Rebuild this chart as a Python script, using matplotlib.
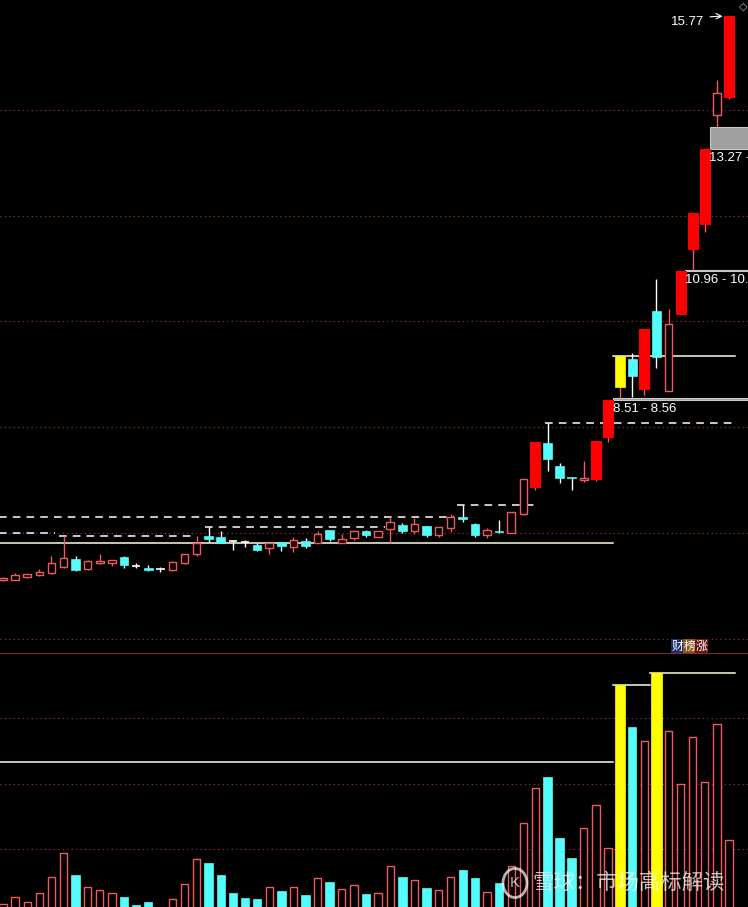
import matplotlib
matplotlib.use('Agg')
import matplotlib.pyplot as plt
from matplotlib.patches import Rectangle, Circle

plt.rcParams['font.family'] = ['Liberation Sans', 'Noto Sans CJK SC', 'DejaVu Sans']

# daily K-line data (price)
opens = [5.11, 5.11, 5.16, 5.20, 5.24, 5.35, 5.50, 5.32, 5.43, 5.43,
         5.54, 5.37, 5.33, 5.32, 5.30, 5.43, 5.60, 5.94, 5.92, 5.85,
         5.83, 5.77, 5.71, 5.83, 5.73, 5.85, 5.81, 6.05, 5.81, 5.90,
         6.03, 5.92, 6.07, 6.15, 6.03, 6.13, 5.96, 6.09, 6.30, 6.17,
         5.96, 6.03, 6.00, 6.36, 6.87, 7.70, 7.26, 7.06, 7.00, 7.02,
         7.81, 8.76, 9.29, 8.72, 10.20, 8.68, 10.14, 11.37, 11.84, 13.91,
         14.25]
highs = [5.16, 5.24, 5.23, 5.32, 5.56, 5.94, 5.56, 5.49, 5.60, 5.49,
         5.56, 5.43, 5.39, 5.35, 5.47, 5.60, 5.94, 6.11, 6.03, 5.86,
         5.86, 5.81, 5.81, 5.83, 5.92, 5.90, 6.03, 6.05, 5.98, 6.03,
         6.05, 6.03, 6.30, 6.19, 6.28, 6.13, 6.11, 6.36, 6.53, 6.19,
         6.09, 6.24, 6.39, 7.02, 7.72, 8.08, 7.32, 7.06, 7.36, 7.74,
         8.51, 9.35, 9.40, 9.86, 10.80, 10.23, 10.96, 12.05, 13.27, 14.57,
         15.77]
lows = [5.09, 5.10, 5.15, 5.19, 5.22, 5.33, 5.28, 5.30, 5.41, 5.37,
        5.33, 5.33, 5.28, 5.26, 5.28, 5.41, 5.56, 5.83, 5.81, 5.67,
        5.73, 5.66, 5.60, 5.66, 5.64, 5.71, 5.81, 5.85, 5.81, 5.86,
        5.92, 5.92, 5.81, 6.00, 5.98, 5.92, 5.92, 6.02, 6.20, 5.92,
        5.90, 6.00, 6.00, 6.34, 6.81, 7.17, 6.94, 6.81, 6.96, 6.98,
        7.72, 8.56, 8.57, 8.61, 9.12, 8.68, 10.14, 10.98, 11.69, 13.68,
        14.21]
closes = [5.14, 5.20, 5.22, 5.26, 5.43, 5.52, 5.30, 5.47, 5.47, 5.49,
          5.39, 5.37, 5.30, 5.32, 5.45, 5.60, 5.81, 5.88, 5.81, 5.85,
          5.83, 5.67, 5.81, 5.75, 5.86, 5.75, 5.98, 5.88, 5.88, 6.03,
          5.96, 6.03, 6.20, 6.03, 6.17, 5.96, 6.11, 6.30, 6.26, 5.96,
          6.05, 6.01, 6.39, 7.02, 7.72, 7.40, 7.04, 7.03, 7.04, 7.74,
          8.51, 9.35, 8.97, 9.86, 9.33, 9.95, 10.96, 12.05, 13.27, 14.32,
          15.77]
volume = [0.17, 0.27, 0.20, 0.34, 0.58, 0.95, 0.61, 0.43, 0.38, 0.34,
          0.27, 0.15, 0.20, 0.08, 0.24, 0.47, 0.85, 0.79, 0.61, 0.34,
          0.26, 0.24, 0.43, 0.37, 0.43, 0.31, 0.56, 0.50, 0.40, 0.46,
          0.32, 0.34, 0.75, 0.58, 0.53, 0.41, 0.38, 0.58, 0.69, 0.56,
          0.35, 0.49, 0.75, 1.40, 1.94, 2.11, 1.18, 0.87, 1.33, 1.68,
          1.02, 3.51, 2.87, 2.66, 3.69, 2.81, 2.00, 2.72, 2.03, 2.92,
          1.15]
limit_up = [44, 49, 50, 53, 56, 57, 58, 60]
yellow_k = [51]
yellow_v = [51, 54]

# gaps: (day, low, high)
gaps = [(50, 8.51, 8.56), (56, 10.96, 10.98), (58, 13.27, 13.68)]
# price level lines: (price, from, to, dashed)
levels = [(6.30, -1, 37.3, True), (6.00, -1, 4.3, True), (5.94, 4.6, 15.6, True),
          (6.11, 16.7, 31.6, True), (6.53, 37.5, 44.2, True), (8.08, 44.8, 60.3, True),
          (5.81, -1, 50.4, False), (9.35, 50.4, 60.5, False)]
vol_levels = [(2.34, -1, 50.4), (3.51, 50.4, 53.5), (3.69, 53.5, 60.5)]

RED = '#ff0000'
SALMON = '#f05a5a'
CYAN = '#54fcfc'
YEL = '#ffff00'
GRID = '#a03c3c'

fig = plt.figure(figsize=(7.48, 9.07), dpi=100, facecolor='black')
ax = fig.add_axes([0, 254 / 907, 1, 653 / 907])
axv = fig.add_axes([0, 0, 1, 254 / 907])
for a in (ax, axv):
    a.set_facecolor('black')
    a.set_xlim(-0.25, 61.57)
    a.axis('off')
ax.set_ylim(3.726, 16.081)
axv.set_ylim(0.122, 4.0)

for g in [4, 6, 8, 10, 12, 14]:
    ax.axhline(g, color=GRID, ls=(0, (1, 3)), lw=0.8, zorder=0)
for g in [1, 2, 3]:
    axv.axhline(g, color=GRID, ls=(0, (1, 3)), lw=0.8, zorder=0)
axv.axhline(4.0, color='#b03030', lw=1.2, zorder=5)

# level lines
for p, a0, a1, dashed in levels:
    ax.plot([a0, a1], [p, p], color='white' if dashed else '#fffbe0',
            ls=(0, (5, 4)) if dashed else '-', lw=1.1, zorder=1)
for v, a0, a1 in vol_levels:
    axv.plot([a0, a1], [v, v], color='#fffbe0', lw=1.1, zorder=1)

# gaps
for d, lo, hi in gaps:
    ax.add_patch(Rectangle((d + 0.4, lo), 62 - d, hi - lo, facecolor='#a0a0a0',
                           edgecolor='#c8c8c8', lw=0.8, zorder=1))
    ax.text(d + 0.38, lo - 0.06, f'{lo:.2f} - {hi:.2f}', color='white',
            fontsize=9.5, va='top', ha='left', zorder=6)

# candles
for i in range(len(opens)):
    o, h, l, c = opens[i], highs[i], lows[i], closes[i]
    if i in yellow_k:
        ax.vlines(i, l, h, color=SALMON, lw=1, zorder=2)
        ax.add_patch(Rectangle((i - 0.44, o), 0.88, c - o, facecolor=YEL,
                               edgecolor=YEL, lw=0.5, zorder=3))
    elif c > o and i in limit_up:
        ax.vlines(i, l, h, color=SALMON, lw=1, zorder=2)
        ax.add_patch(Rectangle((i - 0.42, o), 0.84, c - o, facecolor=RED,
                               edgecolor=RED, lw=0.8, zorder=3))
    elif c > o:
        ax.vlines(i, l, h, color=SALMON, lw=1, zorder=2)
        ax.add_patch(Rectangle((i - 0.31, o), 0.62, c - o, facecolor='black',
                               edgecolor=SALMON, lw=1, zorder=3))
    elif c < o:
        ax.vlines(i, l, h, color='white', lw=1, zorder=2)
        ax.add_patch(Rectangle((i - 0.36, c), 0.72, o - c, facecolor=CYAN,
                               edgecolor=CYAN, lw=0.5, zorder=3))
    else:
        ax.vlines(i, l, h, color='white', lw=1, zorder=2)
        ax.hlines(o, i - 0.36, i + 0.36, color='white', lw=1.2, zorder=3)

# volume
for i, v in enumerate(volume):
    if i in yellow_v:
        axv.add_patch(Rectangle((i - 0.44, 0), 0.88, v, facecolor=YEL,
                                edgecolor=YEL, lw=0.5, zorder=3))
    elif closes[i] > opens[i]:
        axv.add_patch(Rectangle((i - 0.3, 0), 0.6, v, facecolor='black',
                                edgecolor=SALMON, lw=1, zorder=3))
    else:
        axv.add_patch(Rectangle((i - 0.35, 0), 0.7, v, facecolor=CYAN,
                                edgecolor=CYAN, lw=0.5, zorder=3))

# top label with arrow
ax.annotate(f'{highs[-1]:.2f}', xy=(60 - 0.3, highs[-1]), xytext=(-15, -4),
            textcoords='offset points', color='white', fontsize=9.5,
            ha='right', va='center',
            arrowprops=dict(arrowstyle='->', color='white', lw=0.8,
                            connectionstyle='arc3,rad=-0.1'))
fig.text(743 / 748, 1 - 7 / 907, '◇', color='#bbbbbb', fontsize=8,
         ha='center', va='center', family=['DejaVu Sans'])

# indicator title
for k, (ch, bg) in enumerate(zip('财榜涨', ['#1c2c70', '#8a5a18', '#6a1414'])):
    fig.text((672 + 12 * k) / 748, 1 - 646 / 907, ch, color='white', fontsize=8.6,
             ha='left', va='center', family=['Noto Sans CJK SC'],
             bbox=dict(boxstyle='square,pad=0.05', fc=bg, ec='none'))

# watermark
fig.patches.append(Circle((515 / 748, 1 - 883 / 907), 0.016, transform=fig.transFigure,
                          fill=False, ec='white', lw=2, alpha=0.7))
fig.text(515 / 748, 1 - 883 / 907, 'K', color='white', alpha=0.7, fontsize=11,
         ha='center', va='center')
fig.text(532 / 748, 1 - 883 / 907, '雪球：市场高标解读', color='white', alpha=0.75,
         fontsize=15.4, ha='left', va='center', family=['Noto Sans CJK SC'])

fig.savefig('out.png', dpi=100, facecolor='black')
